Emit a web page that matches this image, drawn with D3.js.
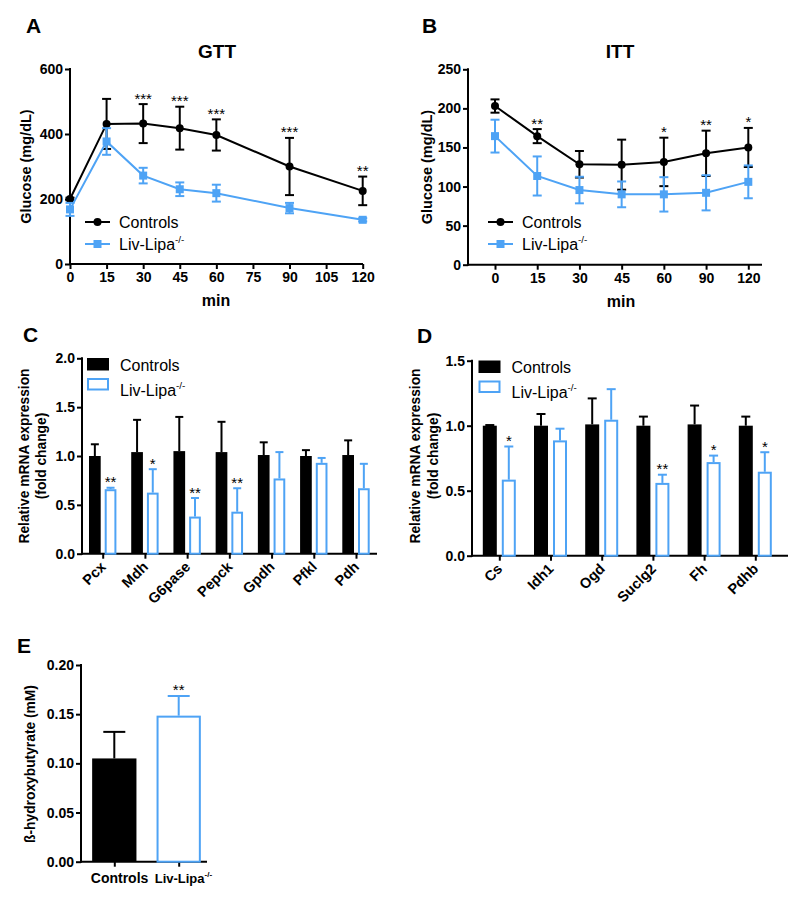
<!DOCTYPE html>
<html><head><meta charset="utf-8">
<script src="https://cdn.jsdelivr.net/npm/d3@7"></script>
<style>
body{margin:0;background:#fff;}
svg{display:block;font-family:"Liberation Sans",Arial,sans-serif;}
</style></head>
<body><svg id="c" width="800" height="901"></svg>
<script>
// ---------- DATA ----------
const gttTime = [0, 15, 30, 45, 60, 90, 120];
const gttTicks = [0, 15, 30, 45, 60, 75, 90, 105, 120];
const gttCtrl = [200, 431, 432, 418, 397, 300, 225];
const gttCtrlErr = [4, 77, 60, 66, 48, 88, 44];
const gttLipa = [168, 377, 272, 230, 218, 172, 136];
const gttLipaErr = [20, 41, 24, 21, 26, 16, 5];
const gttStars = ["", "", "***", "***", "***", "***", "**"];

const ittTime = ["0", "15", "30", "45", "60", "90", "120"];
const ittCtrl = [203, 164.5, 128.5, 128, 131.5, 142.5, 150];
const ittCtrlErr = [8.5, 9, 17, 32, 31, 29, 25];
const ittLipa = [164.5, 113.5, 95.5, 90, 90, 92, 106];
const ittLipaErr = [21, 25, 17, 16.5, 22, 22.5, 21];
const ittStars = ["", "**", "", "", "*", "**", "*"];

const glucoGenes = ["Pcx", "Mdh", "G6pase", "Pepck", "Gpdh", "Pfkl", "Pdh"];
const glucoCtrl = [1.0, 1.04, 1.05, 1.04, 1.01, 1.0, 1.01];
const glucoCtrlErr = [0.12, 0.33, 0.35, 0.31, 0.13, 0.06, 0.15];
const glucoLipa = [0.66, 0.625, 0.38, 0.43, 0.77, 0.93, 0.67];
const glucoLipaErr = [0.015, 0.24, 0.19, 0.24, 0.27, 0.05, 0.25];
const glucoStars = ["**", "*", "**", "**", "", "", ""];

const tcaGenes = ["Cs", "Idh1", "Ogd", "Suclg2", "Fh", "Pdhb"];
const tcaCtrl = [1.0, 1.0, 1.01, 1.0, 1.01, 1.0];
const tcaCtrlErr = [0.005, 0.09, 0.2, 0.07, 0.145, 0.07];
const tcaLipa = [0.585, 0.887, 1.046, 0.56, 0.72, 0.646];
const tcaLipaErr = [0.255, 0.09, 0.235, 0.063, 0.05, 0.15];
const tcaStars = ["*", "", "", "**", "*", "*"];

const bhbGroups = ["Controls", "Liv-Lipa"];
const bhbValues = [0.105, 0.1485];
const bhbErr = [0.027, 0.02];
const bhbStars = ["", "**"];

// ---------- STYLE ----------
const BLUE = "#4ea3f5";
const BLACK = "#000";
const FONT = "'Liberation Sans', Arial, sans-serif";
const TICK = 14;
const svg = d3.select("#c");

function lipaText(sel, x, y, size, anchor) {
  return sel.append("text").attr("x", x).attr("y", y)
    .attr("font-size", size).attr("text-anchor", anchor || "start");
}
function addLipa(t, size, bold) {
  t.append("tspan").text("Liv-Lipa");
  t.append("tspan").attr("font-size", size * 0.62).attr("dy", -size * 0.42).text("-/-");
  if (bold) t.attr("font-weight", "bold");
}

function yAxis(g, y, x0, ticks, fmt) {
  const ax = d3.axisLeft(y).tickValues(ticks).tickSize(5).tickPadding(2).tickFormat(fmt);
  const a = g.append("g").attr("transform", `translate(${x0},0)`).call(ax);
  a.select(".domain").remove();
  a.selectAll(".tick line").attr("stroke", BLACK).attr("stroke-width", 2);
  a.selectAll(".tick text").attr("font-size", TICK).attr("font-weight", "bold")
    .attr("font-family", FONT).attr("fill", BLACK);
  const r = y.range();
  g.append("line").attr("x1", x0).attr("x2", x0).attr("y1", r[0] + 1).attr("y2", r[1] - 1)
    .attr("stroke", BLACK).attr("stroke-width", 2);
}
function xAxisLine(g, y0, x1, x2) {
  g.append("line").attr("x1", x1 - 1).attr("x2", x2).attr("y1", y0).attr("y2", y0)
    .attr("stroke", BLACK).attr("stroke-width", 2);
}
function xAxisTicks(g, x, y0, ticks, showLabels) {
  const ax = d3.axisBottom(x).tickValues(ticks).tickSize(5).tickPadding(3);
  if (!showLabels) ax.tickFormat("");
  const a = g.append("g").attr("transform", `translate(0,${y0})`).call(ax);
  a.select(".domain").remove();
  a.selectAll(".tick line").attr("stroke", BLACK).attr("stroke-width", 2);
  a.selectAll(".tick text").attr("font-size", TICK).attr("font-weight", "bold")
    .attr("font-family", FONT).attr("fill", BLACK);
}
function yLabel(g, lines, cx, cy, size) {
  lines.forEach((l, i) => {
    g.append("text").attr("transform", `translate(${cx[i]},${cy}) rotate(-90)`)
      .attr("text-anchor", "middle").attr("dominant-baseline", "middle")
      .attr("font-size", size).attr("font-weight", "bold").text(l);
  });
}
function panelLetter(txt, x, y) {
  svg.append("text").attr("x", x).attr("y", y).attr("font-size", 21)
    .attr("font-weight", "bold").text(txt);
}

// ---------- LINE CHART ----------
function lineChart(opt) {
  const g = svg.append("g");
  const { x, y, xs, ctrl, ctrlErr, lipa, lipaErr, stars } = opt;
  const y0 = y.range()[0];
  yAxis(g, y, opt.axisX, opt.yTicks, d3.format("d"));
  xAxisLine(g, y0, opt.axisX, opt.axisEnd);
  xAxisTicks(g, x, y0, opt.xTicks, true);
  g.append("text").attr("x", opt.minX).attr("y", y0 + 42).attr("text-anchor", "middle")
    .attr("font-size", 16).attr("font-weight", "bold").text("min");
  g.append("text").attr("x", opt.titleX).attr("y", 58).attr("text-anchor", "middle")
    .attr("font-size", 19).attr("font-weight", "bold").text(opt.title);

  const series = [
    { v: ctrl, e: ctrlErr, c: BLACK, m: "circle" },
    { v: lipa, e: lipaErr, c: BLUE, m: "square" }
  ];
  series.forEach(s => {
    const pts = xs.map((t, i) => ({ t, v: s.v[i], e: s.e[i] }));
    const eg = g.append("g").attr("stroke", s.c).attr("stroke-width", 2).attr("fill", "none");
    pts.forEach(p => {
      const xx = x(p.t);
      eg.append("line").attr("x1", xx).attr("x2", xx).attr("y1", y(p.v - p.e)).attr("y2", y(p.v + p.e));
      [p.v - p.e, p.v + p.e].forEach(w => {
        eg.append("line").attr("x1", xx - 4.5).attr("x2", xx + 4.5).attr("y1", y(w)).attr("y2", y(w));
      });
    });
    g.append("path").datum(pts).attr("fill", "none").attr("stroke", s.c).attr("stroke-width", 2)
      .attr("d", d3.line().x(d => x(d.t)).y(d => y(d.v)));
    pts.forEach(p => {
      if (s.m === "circle") g.append("circle").attr("cx", x(p.t)).attr("cy", y(p.v)).attr("r", 4).attr("fill", s.c);
      else g.append("rect").attr("x", x(p.t) - 4).attr("y", y(p.v) - 4).attr("width", 8).attr("height", 8).attr("fill", s.c);
    });
  });
  xs.forEach((t, i) => {
    if (!stars[i]) return;
    g.append("text").attr("x", x(t)).attr("y", y(ctrl[i] + ctrlErr[i]) - 0.5).attr("text-anchor", "middle")
      .attr("font-size", 15).text(stars[i]);
  });
  // legend
  const lx = opt.legX, ly1 = opt.legY, ly2 = opt.legY + 22;
  g.append("line").attr("x1", lx).attr("x2", lx + 25).attr("y1", ly1).attr("y2", ly1).attr("stroke", BLACK).attr("stroke-width", 2);
  g.append("circle").attr("cx", lx + 12.5).attr("cy", ly1).attr("r", 4).attr("fill", BLACK);
  g.append("line").attr("x1", lx).attr("x2", lx + 25).attr("y1", ly2).attr("y2", ly2).attr("stroke", BLUE).attr("stroke-width", 2);
  g.append("rect").attr("x", lx + 8.5).attr("y", ly2 - 4).attr("width", 8).attr("height", 8).attr("fill", BLUE);
  g.append("text").attr("x", lx + 34).attr("y", ly1 + 6).attr("font-size", 16).text("Controls");
  const t = lipaText(g, lx + 34, ly2 + 6, 16);
  addLipa(t, 16, false);
  yLabel(g, ["Glucose (mg/dL)"], [opt.yLabX], (y.range()[0] + y.range()[1]) / 2, 14.5);
}

// A
lineChart({
  x: d3.scaleLinear().domain([0, 120]).range([70, 362.7]),
  y: d3.scaleLinear().domain([0, 600]).range([264, 69]),
  xs: gttTime, xTicks: gttTicks, yTicks: [0, 200, 400, 600],
  ctrl: gttCtrl, ctrlErr: gttCtrlErr, lipa: gttLipa, lipaErr: gttLipaErr, stars: gttStars,
  axisX: 70, axisEnd: 363, minX: 216, titleX: 217, title: "GTT",
  legX: 85, legY: 222, yLabX: 27
});
// B
lineChart({
  x: d3.scalePoint().domain(ittTime).range([495, 748.3]),
  y: d3.scaleLinear().domain([0, 250]).range([264.7, 69.3]),
  xs: ittTime, xTicks: ittTime, yTicks: [0, 50, 100, 150, 200, 250],
  ctrl: ittCtrl, ctrlErr: ittCtrlErr, lipa: ittLipa, lipaErr: ittLipaErr, stars: ittStars,
  axisX: 468, axisEnd: 762, minX: 621, titleX: 620, title: "ITT",
  legX: 488, legY: 222, yLabX: 428
});

// ---------- BAR CHART ----------
function barChart(opt) {
  const g = svg.append("g");
  const { x, y, cats, ctrl, ctrlErr, lipa, lipaErr, stars } = opt;
  const y0 = y.range()[0];
  yAxis(g, y, opt.axisX, opt.yTicks, opt.fmt);
  xAxisLine(g, y0, opt.axisX, opt.axisEnd);
  xAxisTicks(g, x, y0, cats, false);
  const bw = opt.bw, off = opt.off;
  cats.forEach((c, i) => {
    const cx = x(c);
    const xb = cx - off - bw, xm = xb + bw / 2;
    g.append("line").attr("x1", xm).attr("x2", xm).attr("y1", y(ctrl[i])).attr("y2", y(ctrl[i] + ctrlErr[i]))
      .attr("stroke", BLACK).attr("stroke-width", 2);
    g.append("line").attr("x1", xm - opt.cap).attr("x2", xm + opt.cap).attr("y1", y(ctrl[i] + ctrlErr[i])).attr("y2", y(ctrl[i] + ctrlErr[i]))
      .attr("stroke", BLACK).attr("stroke-width", 2);
    g.append("rect").attr("x", xb).attr("y", y(ctrl[i])).attr("width", bw).attr("height", y0 - y(ctrl[i])).attr("fill", BLACK);
    const xl = cx + off, xlm = xl + bw / 2;
    g.append("line").attr("x1", xlm).attr("x2", xlm).attr("y1", y(lipa[i])).attr("y2", y(lipa[i] + lipaErr[i]))
      .attr("stroke", BLUE).attr("stroke-width", 2);
    g.append("line").attr("x1", xlm - opt.cap).attr("x2", xlm + opt.cap).attr("y1", y(lipa[i] + lipaErr[i])).attr("y2", y(lipa[i] + lipaErr[i]))
      .attr("stroke", BLUE).attr("stroke-width", 2);
    g.append("rect").attr("x", xl + 1).attr("y", y(lipa[i]) + 1).attr("width", bw - 2).attr("height", y0 - y(lipa[i]) - 1)
      .attr("fill", "#fff").attr("stroke", BLUE).attr("stroke-width", 2);
    if (stars[i]) g.append("text").attr("x", xlm).attr("y", y(lipa[i] + lipaErr[i]) - 0.5)
      .attr("text-anchor", "middle").attr("font-size", 15).text(stars[i]);
    g.append("text").attr("transform", `translate(${cx + 4},${y0 + 14}) rotate(-45)`)
      .attr("text-anchor", "end").attr("font-size", 14.5).attr("font-weight", "bold").text(c);
  });
  const lx = opt.legX, ly = opt.legY;
  g.append("rect").attr("x", lx).attr("y", ly).attr("width", 22).attr("height", 12.5).attr("fill", BLACK);
  g.append("rect").attr("x", lx + 1).attr("y", ly + 21).attr("width", 20).attr("height", 10.5)
    .attr("fill", "#fff").attr("stroke", BLUE).attr("stroke-width", 2);
  g.append("text").attr("x", lx + 33).attr("y", ly + 12.5).attr("font-size", 16).text("Controls");
  const t = lipaText(g, lx + 33, ly + 37.5, 16);
  addLipa(t, 16, false);
  yLabel(g, ["Relative mRNA expression", "(fold change)"], opt.yLabX, 456, 13.8);
}

// C
barChart({
  x: d3.scalePoint().domain(glucoGenes).range([102.7, 356]),
  y: d3.scaleLinear().domain([0, 2]).range([553.7, 358.3]),
  cats: glucoGenes, ctrl: glucoCtrl, ctrlErr: glucoCtrlErr, lipa: glucoLipa, lipaErr: glucoLipaErr, stars: glucoStars,
  yTicks: [0, 0.5, 1, 1.5, 2], fmt: d3.format(".1f"),
  axisX: 82, axisEnd: 377, bw: 11.7, off: 2, cap: 4,
  legX: 87, legY: 358, yLabX: [25, 42]
});
// D
barChart({
  x: d3.scalePoint().domain(tcaGenes).range([499.3, 755.3]),
  y: d3.scaleLinear().domain([0, 1.5]).range([555.7, 360.7]),
  cats: tcaGenes, ctrl: tcaCtrl, ctrlErr: tcaCtrlErr, lipa: tcaLipa, lipaErr: tcaLipaErr, stars: tcaStars,
  yTicks: [0, 0.5, 1, 1.5], fmt: d3.format(".1f"),
  axisX: 472, axisEnd: 788, bw: 14, off: 2.5, cap: 4.5,
  legX: 478.5, legY: 360.5, yLabX: [416.5, 434]
});

// ---------- E ----------
(function () {
  const g = svg.append("g");
  const x = d3.scalePoint().domain(bhbGroups).range([114.3, 178.7]);
  const y = d3.scaleLinear().domain([0, 0.2]).range([861.7, 665]);
  const y0 = y.range()[0];
  yAxis(g, y, 81, [0, 0.05, 0.1, 0.15, 0.2], d3.format(".2f"));
  xAxisLine(g, y0, 81, 207);
  xAxisTicks(g, x, y0, bhbGroups, false);
  const bw = 44.3;
  const cols = [BLACK, BLUE];
  bhbGroups.forEach((c, i) => {
    const cx = x(c), v = bhbValues[i], e = bhbErr[i];
    g.append("line").attr("x1", cx).attr("x2", cx).attr("y1", y(v)).attr("y2", y(v + e)).attr("stroke", cols[i]).attr("stroke-width", 2);
    g.append("line").attr("x1", cx - 11).attr("x2", cx + 11).attr("y1", y(v + e)).attr("y2", y(v + e)).attr("stroke", cols[i]).attr("stroke-width", 2);
    if (i === 0) g.append("rect").attr("x", cx - bw / 2).attr("y", y(v)).attr("width", bw).attr("height", y0 - y(v)).attr("fill", BLACK);
    else g.append("rect").attr("x", cx - bw / 2 + 1).attr("y", y(v) + 1).attr("width", bw - 2).attr("height", y0 - y(v) - 1)
      .attr("fill", "#fff").attr("stroke", BLUE).attr("stroke-width", 2);
    if (bhbStars[i]) g.append("text").attr("x", cx).attr("y", y(v + e) - 0.5).attr("text-anchor", "middle").attr("font-size", 15).text(bhbStars[i]);
  });
  g.append("text").attr("x", x(bhbGroups[0]) - 23.5).attr("y", y0 + 21)
    .attr("font-size", 14).attr("font-weight", "bold").text(bhbGroups[0]);
  const lt = lipaText(g, x(bhbGroups[1]) - 24, y0 + 21, 13);
  addLipa(lt, 13, true);
  yLabel(g, ["ß-hydroxybutyrate (mM)"], [31.5], 764, 13.8);
})();

panelLetter("A", 26, 33);
panelLetter("B", 422, 33);
panelLetter("C", 23, 342);
panelLetter("D", 417, 343);
panelLetter("E", 17, 653);
</script></body></html>
